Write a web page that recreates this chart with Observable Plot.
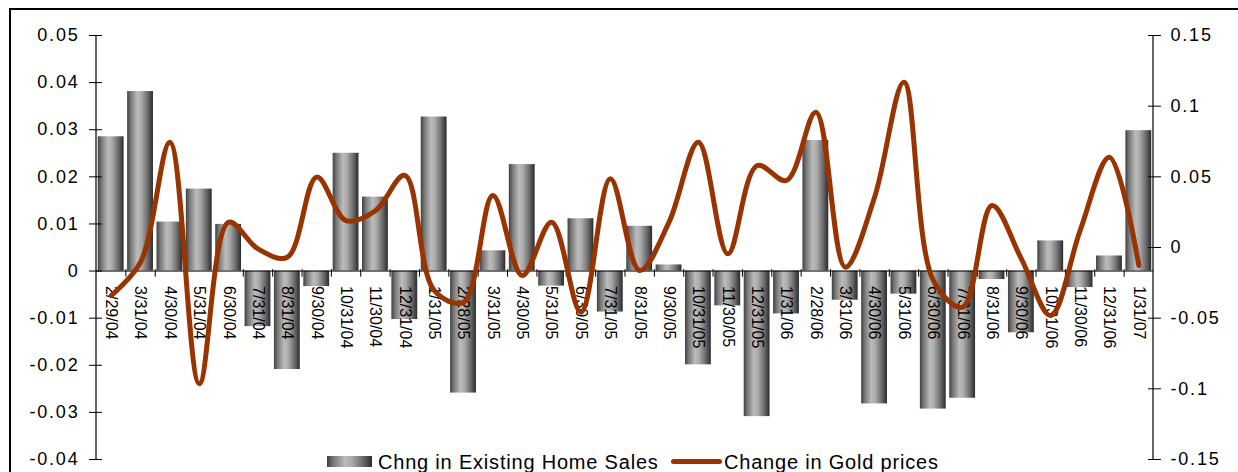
<!DOCTYPE html>
<html>
<head>
<meta charset="utf-8">
<script src="https://cdn.jsdelivr.net/npm/d3@7"></script>
<script src="https://cdn.jsdelivr.net/npm/@observablehq/plot@0.6"></script>
<style>
  html, body { margin: 0; padding: 0; background: #fff; overflow: hidden; }
  #wrap { position: relative; width: 1238px; height: 472px; overflow: hidden; font-family: "Liberation Sans", Arial, sans-serif; color: #000; }
  #chart { position: absolute; left: 0; top: 0; }
  #frame { position: absolute; left: 9px; top: 8px; width: 1400px; height: 700px; border: 2px solid #000; box-sizing: border-box; pointer-events: none; }
  .lg { position: absolute; font-size: 20px; line-height: 20px; letter-spacing: 0.8px; white-space: nowrap; }
  #sw1 { position: absolute; left: 327px; top: 456px; width: 45px; height: 11px;
         background: linear-gradient(to right, #404040 0%, #7a7a7a 15%, #bcbcbc 40%, #aaaaaa 55%, #6a6a6a 80%, #2a2a2a 100%); }
  #sw2 { position: absolute; left: 671px; top: 459px; width: 51px; height: 5px; background: #993300; border-radius: 3px; }
  g[aria-label="y-axis tick label"] text { font-size: 18px; letter-spacing: 1.8px; }
</style>
</head>
<body>
<div id="wrap">
  <div id="chart"></div>
  <div id="frame"></div>
  <div id="sw1"></div>
  <div class="lg" style="left:378px;top:452px;">Chng in Existing Home Sales</div>
  <div id="sw2"></div>
  <div class="lg" style="left:724px;top:452px;">Change in Gold prices</div>
</div>
<script>
const dates = ["2/29/04","3/31/04","4/30/04","5/31/04","6/30/04","7/31/04","8/31/04","9/30/04","10/31/04","11/30/04","12/31/04",
  "1/31/05","2/28/05","3/31/05","4/30/05","5/31/05","6/30/05","7/31/05","8/31/05","9/30/05","10/31/05","11/30/05","12/31/05",
  "1/31/06","2/28/06","3/31/06","4/30/06","5/31/06","6/30/06","7/31/06","8/31/06","9/30/06","10/31/06","11/30/06","12/31/06","1/31/07"];

const homeSales = [0.0285, 0.0381, 0.0104, 0.0174, 0.0099, -0.0118, -0.0209, -0.0033, 0.0250, 0.0157, -0.0103,
  0.0327, -0.0259, 0.0043, 0.0226, -0.0032, 0.0111, -0.0087, 0.0095, 0.0013, -0.0199, -0.0074, -0.0309,
  -0.0091, 0.0277, -0.0062, -0.0282, -0.0049, -0.0293, -0.0270, -0.0018, -0.0131, 0.0064, -0.0035, 0.0032, 0.0298];

const goldChange = [-0.034, -0.0104, 0.0745, -0.0964, 0.0179, -0.001, -0.0069, 0.0498, 0.019, 0.026, 0.051,
  -0.0304, -0.0387, 0.0368, -0.0198, 0.0179, -0.0458, 0.0486, -0.0163, 0.0179, 0.0745, -0.0045, 0.058,
  0.0474, 0.0957, -0.0139, 0.0356, 0.117, -0.0233, -0.0422, 0.0297, -0.008, -0.0481, 0.012, 0.0639, -0.0127];

const leftTicks = [-0.04, -0.03, -0.02, -0.01, 0, 0.01, 0.02, 0.03, 0.04, 0.05];
const leftLabels = ["-0.04", "-0.03", "-0.02", "-0.01", "0", "0.01", "0.02", "0.03", "0.04", "0.05"];
const goldTicks = [-0.15, -0.1, -0.05, 0, 0.05, 0.1, 0.15];
const goldLabels = ["-0.15", "-0.1", "-0.05", "0", "0.05", "0.1", "0.15"];

// right axis [-0.15, 0.15] shares the pixel range of left axis [-0.04, 0.05]
const toLeft = g => -0.04 + (g + 0.15) / 0.3 * 0.09;
const goldTicksLeft = goldTicks.map(toLeft);

const data = dates.map((d, i) => ({date: d, home: homeSales[i], gold: toLeft(goldChange[i])}));

const W = 1238, H = 472, mL = 96, mR = 85, mT = 35, mB = 13;
const step = (W - mL - mR) / dates.length;

const lookup = (vals, labels) => d => {
  const i = vals.findIndex(v => Math.abs(v - d) < 1e-9);
  return i >= 0 ? labels[i] : "";
};

const chart = Plot.plot({
  width: W, height: H,
  marginLeft: mL, marginRight: mR, marginTop: mT, marginBottom: mB,
  style: {background: "transparent", fontFamily: "Liberation Sans, Arial, sans-serif", color: "#000", overflow: "visible"},
  x: {type: "band", domain: dates, paddingInner: 0.12, paddingOuter: 0.06, round: false, axis: null},
  y: {domain: [-0.04, 0.05], axis: null},
  marks: [
    Plot.barY(data, {x: "date", y: "home", fill: "#888"}),
    Plot.ruleY([0], {stroke: "#000", strokeWidth: 1}),
    Plot.ruleX(dates.slice(1), {x: d => d, dx: -step / 2, y1: -0.0013, y2: 0.0003, stroke: "#000", strokeWidth: 1}),
    Plot.text(data, {x: "date", y: () => 0, text: "date", rotate: 90, textAnchor: "start", dy: 15, fontSize: 16, fill: "#000"}),
    // left axis: cross ticks + labels
    Plot.axisY({anchor: "left", ticks: leftTicks, tickSize: 13, dx: 6, tickFormat: () => "", stroke: "#000"}),
    Plot.axisY({anchor: "left", ticks: leftTicks, tickSize: 0, tickPadding: 17, tickFormat: lookup(leftTicks, leftLabels), fontSize: 18}),
    // right axis
    Plot.axisY({anchor: "right", ticks: goldTicksLeft, tickSize: 13, dx: -6, tickFormat: () => "", stroke: "#000"}),
    Plot.axisY({anchor: "right", ticks: goldTicksLeft, tickSize: 0, tickPadding: 17, tickFormat: lookup(goldTicksLeft, goldLabels), fontSize: 18}),
    Plot.line(data, {x: "date", y: "gold", stroke: "#993300", strokeWidth: 5, curve: "catmull-rom"})
  ]
});

// gradient for the cylinder-like bars + axis lines drawn from Plot's scales
const svg = d3.select(chart);
const defs = svg.insert("defs", ":first-child");
const grad = defs.append("linearGradient").attr("id", "barGrad").attr("x1", "0").attr("x2", "1").attr("y1", "0").attr("y2", "0");
[[0, "#404040"], [0.15, "#7a7a7a"], [0.4, "#bcbcbc"], [0.55, "#aaaaaa"], [0.8, "#6a6a6a"], [1, "#2a2a2a"]]
  .forEach(([o, c]) => grad.append("stop").attr("offset", o).attr("stop-color", c));
svg.selectAll('g[aria-label="bar"], g[aria-label="bar"] rect').attr("fill", "url(#barGrad)");

const ys = chart.scale("y");
const yTop = ys.apply(0.05), yBot = ys.apply(-0.04);
const lineG = svg.append("g").attr("stroke", "#000").attr("stroke-width", 1.2);
lineG.append("line").attr("x1", mL).attr("x2", mL).attr("y1", yTop).attr("y2", yBot);
lineG.append("line").attr("x1", W - mR).attr("x2", W - mR).attr("y1", yTop).attr("y2", yBot);
// keep the gold line on top
svg.selectAll('g[aria-label="line"]').raise();

document.getElementById("chart").appendChild(chart);
</script>
</body>
</html>
